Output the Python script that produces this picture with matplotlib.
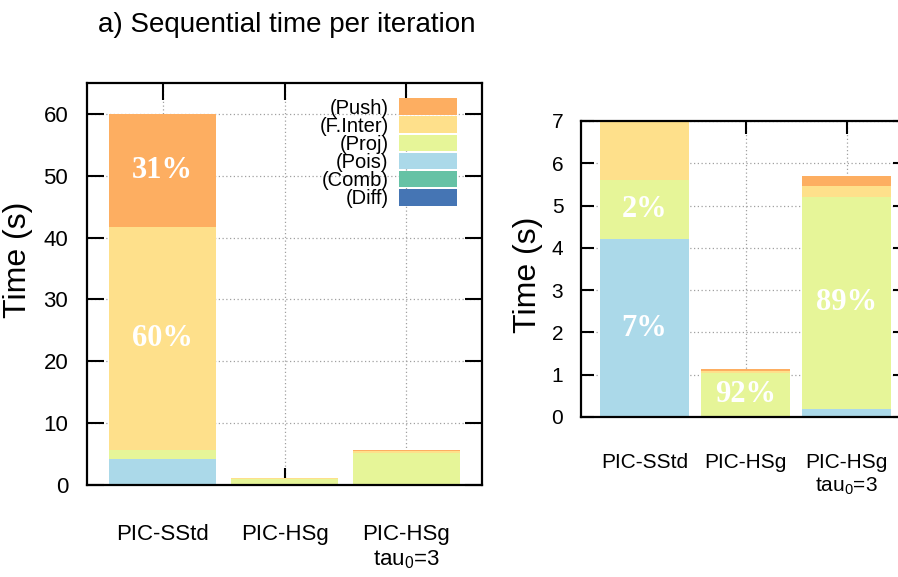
import numpy as np
import matplotlib
matplotlib.use("Agg")
import matplotlib.pyplot as plt
from matplotlib.patches import Patch

plt.rcParams['font.family'] = ['Liberation Sans', 'DejaVu Sans']
plt.rcParams['mathtext.fontset'] = 'custom'
plt.rcParams['mathtext.rm'] = 'Liberation Sans'
plt.rcParams['mathtext.it'] = 'Liberation Sans'

# categories and phases (bottom -> top of each stack)
categories = ['PIC-SStd', 'PIC-HSg', 'PIC-HSg\ntau$_{\\mathrm{0}}$=3']
phases = ['(Diff)', '(Comb)', '(Pois)', '(Proj)', '(F.Inter)', '(Push)']
colors = ['#4575b4', '#66c2a5', '#abd9e9', '#e6f598', '#fee08b', '#fdae61']

# time per phase (s), one list per phase, one value per category
diff_t = [0.0, 0.0, 0.0]
comb_t = [0.0, 0.0, 0.0]
pois_t = [4.2, 0.0, 0.20]
proj_t = [1.4, 1.05, 5.00]
finter_t = [36.2, 0.03, 0.27]
push_t = [18.2, 0.06, 0.22]
times = [diff_t, comb_t, pois_t, proj_t, finter_t, push_t]

# percentage labels: (category index, phase index, text)
left_labels = [(0, 5, '31%'), (0, 4, '60%')]
right_labels = [(0, 2, '7%'), (0, 3, '2%'), (1, 3, '92%'), (2, 3, '89%')]

fig = plt.figure(figsize=(8.98, 5.77), dpi=100)
ax1 = fig.add_axes([0.0969, 0.1594, 0.4399, 0.6967])
ax2 = fig.add_axes([0.647, 0.2773, 0.362, 0.513])

x = np.arange(len(categories))


def draw(ax, labels, ylim, yticks, ticklen, tfs, lfs):
    bottom = np.zeros(len(categories))
    for vals, c in zip(times, colors):
        ax.bar(x, vals, 0.88, bottom=bottom, color=c, zorder=2)
        bottom += np.array(vals)
    for ci, pi, txt in labels:
        b = sum(times[k][ci] for k in range(pi))
        yc = b + times[pi][ci] / 2
        ax.text(x[ci], yc, txt, ha='center', va='center', color='white',
                fontsize=lfs, fontweight='bold',
                family=['Liberation Serif', 'DejaVu Serif'], zorder=3)
    ax.set_ylim(*ylim)
    ax.set_yticks(yticks)
    ax.set_xticks(x)
    ax.set_xticklabels(categories)
    ax.grid(True, color='#a0a0a0', linestyle=(0, (1, 2)), linewidth=0.9,
            zorder=0)
    ax.set_axisbelow(True)
    ax.tick_params(direction='in', top=True, right=True, length=ticklen,
                   width=1.5, labelsize=tfs)
    ax.tick_params(axis='x', pad=tfs * 1.75)
    ax.tick_params(axis='y', pad=tfs * 0.85)
    for s in ax.spines.values():
        s.set_linewidth(1.6)
    ax.set_ylabel('Time (s)', fontsize=23)


draw(ax1, left_labels, (0, 65), range(0, 61, 10), 12, 16, 22)
ax1.set_xlim(-0.62, 2.62)
ax1.yaxis.set_label_coords(-0.137, 0.56)

draw(ax2, right_labels, (0, 7), range(0, 8), 9.5, 15, 22)
ax2.set_xlim(-0.63, 2.59)
ax2.yaxis.set_label_coords(-0.117, 0.48)

handles = [Patch(facecolor=c) for c in colors[::-1]]
ax1.legend(handles, phases[::-1], loc='upper right',
           bbox_to_anchor=(0.937, 0.962), frameon=False, markerfirst=False,
           fontsize=14.5, handlelength=2.9, handleheight=0.9,
           labelspacing=-0.06, borderpad=0, borderaxespad=0,
           handletextpad=0.5)

fig.text(98 / 898, 1 - 32 / 577, 'a) Sequential time per iteration',
         fontsize=20, va='baseline', ha='left')

fig.savefig('out.png', dpi=100)
